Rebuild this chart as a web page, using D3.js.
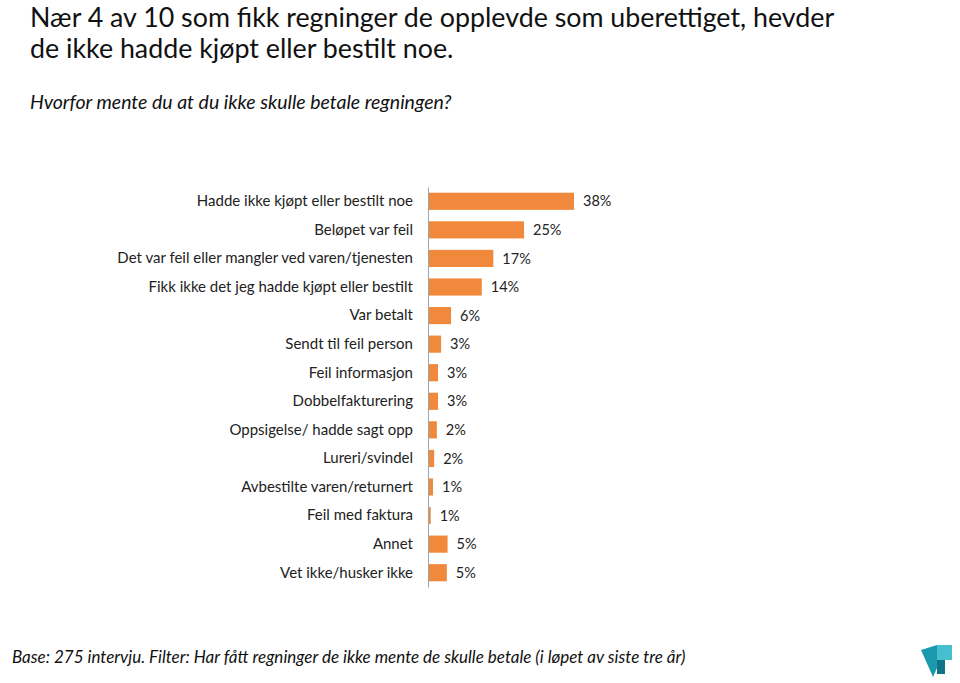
<!DOCTYPE html>
<html>
<head>
<meta charset="utf-8">
<script src="https://cdn.jsdelivr.net/npm/d3@7"></script>
<style>
  body { margin: 0; background: #fff; }
  svg { display: block; font-family: Lato, "Open Sans", sans-serif; }
</style>
</head>
<body>
<div id="chart"></div>
<script>
// kategorier og andeler (%)
var categories = [
    'Hadde ikke kjøpt eller bestilt noe',
    'Beløpet var feil',
    'Det var feil eller mangler ved varen/tjenesten',
    'Fikk ikke det jeg hadde kjøpt eller bestilt',
    'Var betalt',
    'Sendt til feil person',
    'Feil informasjon',
    'Dobbelfakturering',
    'Oppsigelse/ hadde sagt opp',
    'Lureri/svindel',
    'Avbestilte varen/returnert',
    'Feil med faktura',
    'Annet',
    'Vet ikke/husker ikke'
];
var values = [38, 25, 17, 14, 6, 3.4, 2.6, 2.6, 2.3, 1.6, 1.3, 0.7, 5.1, 4.9];

var title = ['Nær 4 av 10 som fikk regninger de opplevde som uberettiget, hevder',
             'de ikke hadde kjøpt eller bestilt noe.'];
var subtitle = 'Hvorfor mente du at du ikke skulle betale regningen?';
var footnote = 'Base: 275 intervju. Filter: Har fått regninger de ikke mente de skulle betale (i løpet av siste tre år)';

var width = 960, height = 683;
var barColor = '#f0893b';

var svg = d3.select('#chart').append('svg')
    .attr('width', width)
    .attr('height', height);

// tittel
svg.append('g').selectAll('text')
    .data(title)
    .enter().append('text')
    .attr('x', 30)
    .attr('y', function(d, i){ return 27 + i*31; })
    .style('font-size', '26.8px')
    .style('fill', '#111')
    .text(function(d){ return d; });

svg.append('text')
    .attr('x', 30)
    .attr('y', 109)
    .style('font-size', '19.5px')
    .style('font-style', 'italic')
    .style('fill', '#111')
    .text(subtitle);

// skalaer
var x = d3.scaleLinear().domain([0, 38]).range([0, 146]);
var y = d3.scaleBand().domain(categories).range([187, 587]).paddingInner(0.4).paddingOuter(0.2);

var g = svg.append('g').attr('transform', 'translate(428,0)');

g.selectAll('rect')
    .data(values)
    .enter().append('rect')
    .attr('x', 0)
    .attr('y', function(d, i){ return y(categories[i]); })
    .attr('width', function(d){ return x(d); })
    .attr('height', y.bandwidth())
    .style('fill', barColor);

g.selectAll('.value')
    .data(values)
    .enter().append('text')
    .attr('class', 'value')
    .attr('x', function(d){ return x(d) + 9; })
    .attr('y', function(d, i){ return y(categories[i]) + y.bandwidth()/2; })
    .attr('dy', '0.35em')
    .style('font-size', '14.5px')
    .style('fill', '#222')
    .text(function(d){ return Math.round(d) + '%'; });

var axis = d3.axisLeft(y).tickSize(0).tickPadding(15);
var $axis = g.append('g').call(axis);
$axis.select('.domain').attr('stroke', '#9aa6b2');
$axis.selectAll('text')
    .style('font-size', '15px')
    .style('font-family', 'Lato, "Open Sans", sans-serif')
    .style('fill', '#222');

// fotnote
svg.append('text')
    .attr('x', 12)
    .attr('y', 663)
    .style('font-size', '17px')
    .style('font-style', 'italic')
    .style('fill', '#111')
    .text(footnote);

// logo
var logo = svg.append('g');
logo.append('path').attr('d', 'M921,650 L937,645 L937,668 L933,677 Z').style('fill', '#1c98ad');
logo.append('path').attr('d', 'M937,645 L952,645 L952,660 L937,660 Z').style('fill', '#45bfd0');
logo.append('path').attr('d', 'M937,660 L945,660 L945,674 L937,674 Z').style('fill', '#0f7488');
</script>
</body>
</html>
